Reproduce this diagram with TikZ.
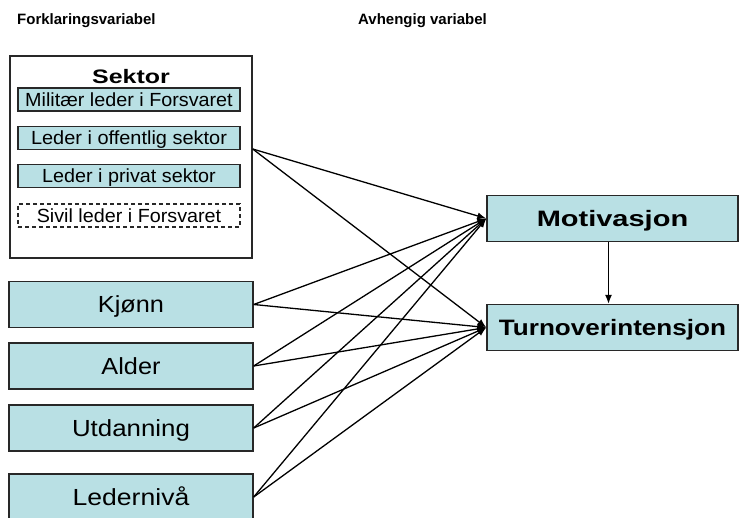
\documentclass[tikz,border=0pt]{standalone}
\usepackage{fontspec}
\setmainfont{Liberation Sans}
\usepackage{graphicx}
\usetikzlibrary{arrows.meta}
\definecolor{boxfill}{RGB}{185,224,228}
\definecolor{boxline}{RGB}{40,40,40}
\newcommand{\hsc}[2]{\scalebox{#1}[1]{#2}}
\begin{document}
\begin{tikzpicture}[x=1pt,y=-1pt,
  subbox/.style={draw=boxline, line width=1.3pt, fill=boxfill, minimum width=222pt, minimum height=23pt, inner sep=0pt, font=\fontsize{19}{22}\selectfont, text height=13.6pt, text depth=0pt},
  dashbox/.style={subbox, fill=white, dash pattern=on 4pt off 3pt},
  varbox/.style={draw=boxline, line width=1.4pt, fill=boxfill, minimum width=244pt, minimum height=46pt, inner sep=0pt, font=\fontsize{23.3}{26}\selectfont, text height=16.7pt, text depth=0pt},
  depbox/.style={draw=boxline, line width=1.4pt, fill=boxfill, minimum width=251pt, minimum height=46pt, inner sep=0pt, font=\bfseries\fontsize{22.3}{26}\selectfont, text height=16pt, text depth=0pt},
  header/.style={font=\bfseries\fontsize{15}{18}\selectfont, anchor=base west, inner sep=0pt},
  conn/.style={draw=black, line width=1.3pt, -{Latex[length=9pt,width=7pt]}},
]
\useasboundingbox (0,0) rectangle (740,518);
\node[header] (hleft) at (17,25) {Forklaringsvariabel};
\node[header] (hright) at (358,25) {Avhengig variabel};

\node[draw=boxline, line width=1.4pt, fill=white, minimum width=242pt, minimum height=202pt, inner sep=0pt] (sektor) at (131,157) {};
\node[font=\bfseries\fontsize{19.5}{22}\selectfont, inner sep=0pt, text height=14pt, text depth=0pt] (stitle) at (131,77) {\hsc{1.28}{Sektor}};
\node[subbox] (mil) at (129,99.5) {\hsc{1.04}{Militær leder i Forsvaret}};
\node[subbox] (off) at (129,138) {\hsc{1.05}{Leder i offentlig sektor}};
\node[subbox] (pri) at (129,176) {\hsc{1.04}{Leder i privat sektor}};
\node[dashbox] (siv) at (129,215.5) {\hsc{1.04}{Sivil leder i Forsvaret}};

\node[varbox] (kj) at (131,304.5) {\hsc{1.085}{Kjønn}};
\node[varbox] (al) at (131,366) {\hsc{1.085}{Alder}};
\node[varbox] (ut) at (131,428) {\hsc{1.11}{Utdanning}};
\node[varbox] (le) at (131,497) {\hsc{1.14}{Ledernivå}};

\node[depbox] (mot) at (612.5,218.5) {\hsc{1.3}{Motivasjon}};
\node[depbox] (tur) at (612.5,327.5) {\hsc{1.17}{Turnoverintensjon}};

\coordinate (ssrc) at ([yshift=8pt]sektor.east);
\draw[conn] (ssrc) -- (mot.west);
\draw[conn] (ssrc) -- (tur.west);
\foreach \s in {kj,al,ut,le} {
  \draw[conn] (\s.east) -- (mot.west);
  \draw[conn] (\s.east) -- (tur.west);
}
\draw[conn] ([xshift=-4pt]mot.south) -- ([xshift=-4pt]tur.north);
\end{tikzpicture}
\end{document}
